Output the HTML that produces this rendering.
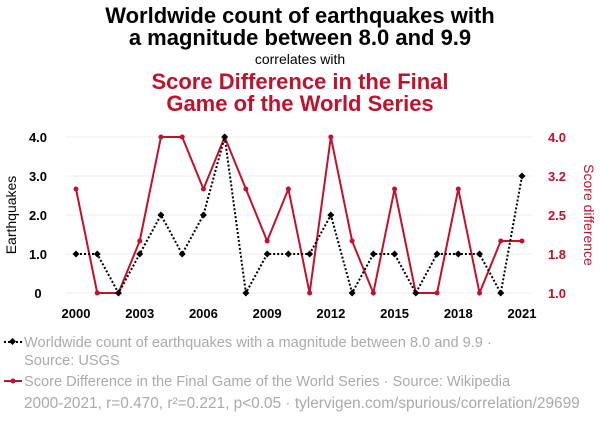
<!DOCTYPE html>
<html><head><meta charset="utf-8"><style>
body{margin:0;background:#fff;font-family:"Liberation Sans",sans-serif;}
svg text{font-family:"Liberation Sans",sans-serif;}
</style></head><body>
<svg id="chart" width="600" height="420" xmlns="http://www.w3.org/2000/svg">
<text x="300" y="23" text-anchor="middle" font-size="22" font-weight="bold" fill="#000">Worldwide count of earthquakes with</text>
<text x="300" y="45" text-anchor="middle" font-size="22" font-weight="bold" fill="#000">a magnitude between 8.0 and 9.9</text>
<text x="300" y="64" text-anchor="middle" font-size="14" fill="#000">correlates with</text>
<text x="300" y="89" text-anchor="middle" font-size="22" font-weight="bold" fill="#c0122c">Score Difference in the Final</text>
<text x="300" y="111" text-anchor="middle" font-size="22" font-weight="bold" fill="#c0122c">Game of the World Series</text>
<g id="grid"></g><g id="axes"></g><g id="series"></g>
<text transform="translate(16,215) rotate(-90)" text-anchor="middle" font-size="14" fill="#000">Earthquakes</text>
<text transform="translate(584,215) rotate(90)" text-anchor="middle" font-size="14" fill="#c0122c">Score difference</text>
<g>
<line x1="4" y1="342" x2="22" y2="342" stroke="#000" stroke-width="2" stroke-dasharray="2,2"/>
<rect x="10" y="339" width="5" height="5" transform="rotate(45 12.5 341.5)" fill="#000"/>
<text x="24" y="347" font-size="14.6" fill="#aaa">Worldwide count of earthquakes with a magnitude between 8.0 and 9.9 ·</text>
<text x="24" y="365" font-size="14.6" fill="#aaa">Source: USGS</text></g>
<g>
<line x1="4" y1="381" x2="22" y2="381" stroke="#c0122c" stroke-width="2"/>
<circle cx="13" cy="381" r="2.5" fill="#c0122c"/>
<text x="24" y="386" font-size="14.6" fill="#aaa">Score Difference in the Final Game of the World Series · Source: Wikipedia</text></g>
<text x="24" y="408" font-size="15.4" fill="#aaa">2000-2021, r=0.470, r²=0.221, p&lt;0.05 · tylervigen.com/spurious/correlation/29699</text>
</svg>
<script>
const years=[2000,2001,2002,2003,2004,2005,2006,2007,2008,2009,2010,2011,2012,2013,2014,2015,2016,2017,2018,2019,2020,2021];
const quakes=[1,1,0,1,2,1,2,4,0,1,1,1,2,0,1,1,0,1,1,1,0,3];
const scores=[3,1,1,2,4,4,3,4,3,2,3,1,4,2,1,3,1,1,3,1,2,2];
const xTicks=[2000,2003,2006,2009,2012,2015,2018,2021];
const leftTicks=[0,1,2,3,4];
const leftLabels=["0","1.0","2.0","3.0","4.0"];
const rightTicks=[1,1.75,2.5,3.25,4];
const rightLabels=["1.0","1.8","2.5","3.2","4.0"];
const NS="http://www.w3.org/2000/svg";
const x=v=>76+(v-2000)*(522-76)/21;
const yL=v=>293-v*(293-137)/4;
const yR=v=>293-(v-1)*(293-137)/3;
function mk(t,a,p){const e=document.createElementNS(NS,t);for(const k in a)e.setAttribute(k,a[k]);p.appendChild(e);return e;}
const grid=document.getElementById('grid'),axes=document.getElementById('axes'),ser=document.getElementById('series');
leftTicks.forEach((v,i)=>{
 const g=mk('line',{x1:66,x2:532,y1:yL(v),y2:yL(v),stroke:'#eee','stroke-width':1},grid);
 
 
 const t=mk('text',{x:38,y:yL(v)+5,'text-anchor':'middle','font-size':13,'font-weight':'bold',fill:'#000'},axes);
 t.textContent=leftLabels[i];
 
 
});
rightTicks.forEach((v,i)=>{
 const t=mk('text',{x:557,y:yR(v)+5,'text-anchor':'middle','font-size':13,'font-weight':'bold',fill:'#c0122c'},axes);
 t.textContent=rightLabels[i];
 
 
});
xTicks.forEach(v=>{
 const t=mk('text',{x:x(v),y:318,'text-anchor':'middle','font-size':13,'font-weight':'bold',fill:'#000'},axes);
 t.textContent=v;
 
 
});
const pr=mk('polyline',{points:years.map((y,i)=>x(y)+','+yR(scores[i])).join(' '),fill:'none',stroke:'#c0122c','stroke-width':2},ser);


const pq=mk('polyline',{points:years.map((y,i)=>x(y)+','+yL(quakes[i])).join(' '),fill:'none',stroke:'#000','stroke-width':2,'stroke-dasharray':'2,2'},ser);


years.forEach((y,i)=>{
 const c=mk('circle',{cx:x(y),cy:yR(scores[i]),r:2.5,fill:'#c0122c'},ser);
 
 
 const cx=x(y),cy=yL(quakes[i]);
 const d=mk('polygon',{points:`${cx},${cy-3.5} ${cx+3.5},${cy} ${cx},${cy+3.5} ${cx-3.5},${cy}`,fill:'#000'},ser);
 
 
});
</script>
</body></html>
